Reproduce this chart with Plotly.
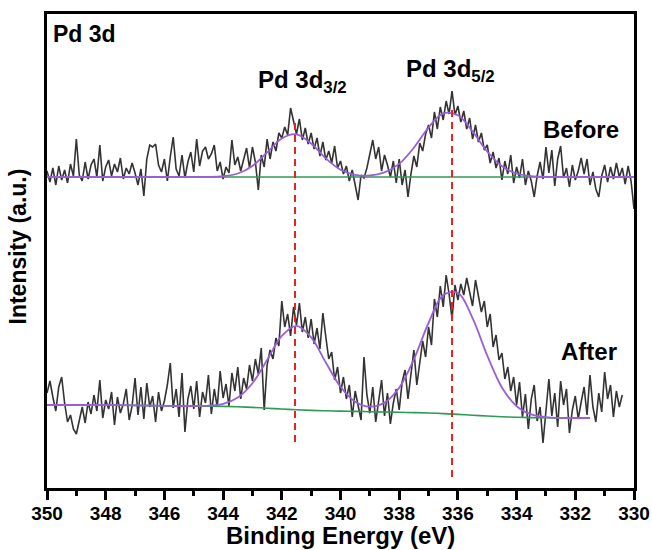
import plotly.graph_objects as go

# ---------------- data ----------------
# raw spectra, 0.1 eV step starting at 350 eV
before_counts = [
    306, 295, 309, 292, 311, 297, 307, 294, 313, 301,
    338, 302, 296, 315, 298, 312, 318, 300, 332, 296,
    310, 317, 301, 313, 305, 319, 298, 309, 303, 314,
    304, 292, 308, 281, 318, 332, 330, 333, 312, 305,
    318, 296, 320, 340, 308, 301, 322, 299, 315, 325,
    305, 338, 311, 326, 330, 318, 323, 332, 306, 315,
    298, 310, 304, 337, 312, 320, 306, 318, 329, 309,
    330, 315, 287, 322, 310, 338, 318, 335, 326, 344,
    339, 350, 342, 369, 355, 343, 358, 337, 349, 333,
    344, 328, 339, 321, 335, 317, 326, 314, 331, 309,
    316, 303, 311, 296, 307, 293, 277, 302, 299, 309,
    325, 337, 318, 330, 306, 322, 312, 300, 316, 294,
    318, 292, 307, 280, 303, 321, 310, 334, 326, 343,
    352, 339, 365, 348, 370, 357, 376, 363, 386, 362,
    371, 355, 366, 348, 359, 338, 352, 335, 344, 327,
    332, 314, 325, 309, 319, 297, 316, 303, 322, 294,
    310, 299, 318, 292, 306, 296, 280, 301, 315, 298,
    330, 304, 327, 291, 318, 331, 299, 309, 290, 312,
    297, 306, 319, 303, 318, 292, 305, 288, 280, 301,
    312, 295, 310, 298, 314, 300, 309, 293, 311, 296, 268,
]
after_counts = [
    84, 96, 80, 66, 90, 100, 74, 55, 62, 48,
    43, 58, 70, 54, 75, 63, 82, 66, 97, 59,
    77, 68, 85, 52, 80, 64, 73, 88, 57, 71,
    99, 62, 90, 58, 94, 70, 81, 55, 85, 66,
    76, 92, 114, 69, 88, 60, 104, 45, 78, 91,
    68, 96, 60, 85, 74, 102, 63, 88, 70, 106,
    79, 93, 71, 104, 86, 110, 78, 99, 88, 112,
    96, 118, 103, 129, 67, 112, 127, 118, 139, 131,
    176, 150, 163, 141, 170, 152, 174, 145, 160, 139,
    158, 133, 149, 128, 164, 140, 118, 125, 97, 110,
    84, 100, 78, 92, 60, 86, 71, 57, 120, 82,
    64, 90, 55, 78, 97, 61, 84, 53, 74, 88,
    67, 95, 107, 78, 100, 127, 92, 114, 136, 120,
    150, 132, 178, 160, 191, 170, 202, 183, 158, 192,
    177, 193, 182, 199, 186, 171, 197, 180, 165, 176,
    150, 163, 130, 142, 117, 124, 98, 110, 86, 100,
    72, 95, 60, 83, 48, 78, 92, 56, 70, 34,
    66, 98, 61, 84, 50, 96, 72, 88, 44, 67,
    81, 58, 75, 90, 62, 102, 70, 55, 84, 65,
    105, 78, 92, 60, 86, 70, 82,
]

# fitted envelopes and backgrounds, 0.5 eV step starting at 350 eV
before_fit = [
    300, 300, 300, 300, 300, 300, 300, 300, 300, 300, 300,
    300.1, 300.8, 303.5, 311.1, 324.6, 338.5, 342.7, 333.5, 318.6, 307.3,
    302.2, 301.5, 304.6, 313.1, 329.3, 349.5, 363.6, 361.8, 345.6, 325.5,
    310.8, 303.5, 300.8, 300.2, 300, 300, 300, 300, 300, 300,
]
before_background = [300] * 41
after_background = [
    72, 72, 72, 72, 72, 71.8, 71.6, 71.4, 71.2, 71, 71,
    70.8, 70.6, 70.2, 69.6, 68.8, 68, 67.2, 66.6, 66.2, 65.9,
    65.6, 65.3, 65, 64.7, 64.4, 64, 63.4, 62.6, 61.8, 61,
    60.3, 59.8, 59.4, 59.2, 59, 59, 59,
]
after_fit = [
    72, 72, 72, 72, 72, 71.8, 71.6, 71.4, 71.2, 71, 71,
    71.4, 73.2, 79.4, 93.8, 117.1, 141.1, 151.2, 139.7, 114.5, 90.2,
    75.3, 70.4, 74.4, 89.3, 117.7, 154, 181.9, 184.1, 158.9, 121.4,
    89.5, 70.8, 62.6, 59.9, 59.1, 59, 59,
]

peak_positions = [341.55, 336.2]
peak_line_top = [354, 367]
peak_line_bottom = [31, -1]

x_ticks = [350, 348, 346, 344, 342, 340, 338, 336, 334, 332, 330]

# ---------------- derived x values ----------------
before_x = [round(350.0 - 0.1 * i, 2) for i in range(len(before_counts))]
after_x = [round(350.0 - 0.1 * i, 2) for i in range(len(after_counts))]
before_fit_x = [350.0 - 0.5 * i for i in range(len(before_fit))]
after_fit_x = [350.0 - 0.5 * i for i in range(len(after_fit))]

FONT = "Arial, 'Liberation Sans', Arimo, sans-serif"
RAW = "#333333"
FIT = "#9A5FD6"
BG = "#2E9A55"
RED = "#E8231F"

fig = go.Figure()
fig.add_trace(go.Scatter(x=before_x, y=before_counts, mode="lines",
                         line=dict(color=RAW, width=1.6), showlegend=False))
fig.add_trace(go.Scatter(x=after_x, y=after_counts, mode="lines",
                         line=dict(color=RAW, width=1.6), showlegend=False))
fig.add_trace(go.Scatter(x=before_fit_x, y=before_background, mode="lines",
                         line=dict(color=BG, width=1.6), showlegend=False))
fig.add_trace(go.Scatter(x=after_fit_x, y=after_background, mode="lines",
                         line=dict(color=BG, width=1.6, shape="spline"), showlegend=False))
fig.add_trace(go.Scatter(x=before_fit_x, y=before_fit, mode="lines",
                         line=dict(color=FIT, width=1.8, shape="spline"), showlegend=False))
fig.add_trace(go.Scatter(x=after_fit_x, y=after_fit, mode="lines",
                         line=dict(color=FIT, width=1.8, shape="spline"), showlegend=False))

for px, top, bot in zip(peak_positions, peak_line_top, peak_line_bottom):
    fig.add_trace(go.Scatter(x=[px, px], y=[top, bot], mode="lines",
                             line=dict(color=RED, width=2, dash="7px,5px"), showlegend=False))

annots = [
    dict(x=349.85, y=443, text="Pd 3d", xanchor="left", size=23),
    dict(x=341.3, y=396, text="Pd 3d<sub>3/2</sub>", xanchor="center", size=24),
    dict(x=336.25, y=407, text="Pd 3d<sub>5/2</sub>", xanchor="center", size=24),
    dict(x=331.8, y=347.5, text="Before", xanchor="center", size=24),
    dict(x=331.52, y=126, text="After", xanchor="center", size=24),
]
for a in annots:
    fig.add_annotation(x=a["x"], y=a["y"], text="<b>" + a["text"] + "</b>",
                       showarrow=False, xanchor=a["xanchor"], yanchor="middle",
                       font=dict(family=FONT, size=a["size"], color="black"))

# axis titles placed in paper coordinates
fig.add_annotation(xref="paper", yref="paper", x=-0.049, y=0.51,
                   text="<b>Intensity (a.u.)</b>", textangle=-90, showarrow=False,
                   xanchor="center", yanchor="middle",
                   font=dict(family=FONT, size=23, color="black"))
fig.add_annotation(xref="paper", yref="paper", x=0.5, y=-0.1,
                   text="<b>Binding Energy (eV)</b>", showarrow=False,
                   xanchor="center", yanchor="middle",
                   font=dict(family=FONT, size=24, color="black"))

fig.update_layout(
    width=652, height=550,
    margin=dict(l=47, r=18, t=14, b=62, autoexpand=False),
    paper_bgcolor="white", plot_bgcolor="white",
    font=dict(family=FONT, color="black"),
)
fig.update_xaxes(
    range=[350, 330], tickvals=x_ticks, ticktext=["<b>%d</b>" % t for t in x_ticks],
    ticks="outside", ticklen=9, tickwidth=2.5, tickcolor="black",
    minor=dict(dtick=1, ticks="outside", ticklen=5, tickwidth=2.5, tickcolor="black"),
    showline=True, linewidth=3, linecolor="black", mirror=True,
    showgrid=False, zeroline=False, automargin=False,
    tickfont=dict(family=FONT, size=19, color="black"),
    ticklabelstandoff=-3,
)
fig.update_yaxes(
    range=[-11, 463], showticklabels=False, ticks="",
    showline=True, linewidth=3, linecolor="black", mirror=True,
    showgrid=False, zeroline=False, automargin=False,
)

fig.write_html("out.html",
               config={"displayModeBar": False},
               post_script="document.body.style.margin='0';document.body.style.padding='0';")
